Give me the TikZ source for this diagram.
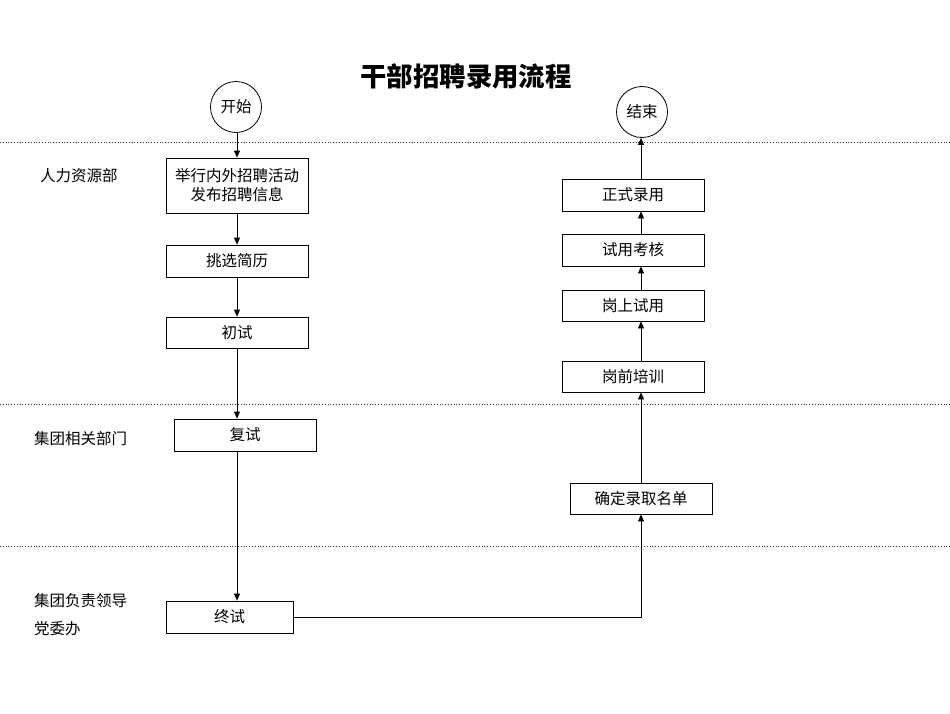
\documentclass[tikz,border=0pt]{standalone}
\usepackage{fontspec}
\newfontfamily\cjk{Noto Sans CJK SC}
\usetikzlibrary{arrows.meta}
\begin{document}
\begin{tikzpicture}[x=1pt,y=-1pt,
  every node/.style={font=\cjk\fontsize{15.5}{19}\selectfont},
  procbox/.style={draw,line width=0.8pt,rectangle,minimum width=142pt,minimum height=32pt,inner sep=0pt,align=center},
  termcirc/.style={draw,line width=0.8pt,circle,minimum size=51pt,inner sep=0pt},
  flow/.style={line width=0.8pt,-{Triangle[length=7pt,width=6pt]}},
  laneline/.style={dotted,line width=0.8pt,black!80},
  lanelabel/.style={anchor=west,inner sep=0pt}]
\useasboundingbox (0,0) rectangle (950,713);
% title
\node (title) at (466,76) {\cjk\bfseries\fontsize{26.4}{30}\selectfont 干部招聘录用流程};
% lane separators
\coordinate (l1a) at (0,142); \coordinate (l1b) at (950,142);
\coordinate (l2a) at (0,404); \coordinate (l2b) at (950,404);
\coordinate (l3a) at (0,546); \coordinate (l3b) at (950,546);
\draw[laneline] (l1a) -- (l1b);
\draw[laneline] (l2a) -- (l2b);
\draw[laneline] (l3a) -- (l3b);
% lane labels
\node[lanelabel] (hr) at (40,176) {人力资源部};
\node[lanelabel] (dept) at (34,439) {集团相关部门};
\node[lanelabel] (lead) at (34,601) {集团负责领导};
\node[lanelabel] (party) at (34,629) {党委办};
% columns
\coordinate (colL) at (237,0);
\coordinate (colR) at (641,0);
% left nodes
\node[termcirc] (start) at (236,107) {开始};
\node[procbox,minimum height=55pt] (recruit) at (237,185.5) {举行内外招聘活动\\发布招聘信息};
\node[procbox] (screen) at (237,261) {挑选简历};
\node[procbox,minimum height=31pt] (first) at (237,332.5) {初试};
\node[procbox] (second) at (245,435) {复试};
\node[procbox,minimum width=127pt] (final) at (229.5,617) {终试};
% right nodes
\node[termcirc] (end) at (642,112) {结束};
\node[procbox] (formal) at (633,195) {正式录用};
\node[procbox] (trial) at (633,250) {试用考核};
\node[procbox,minimum height=31pt] (onjob) at (633,305.5) {岗上试用};
\node[procbox,minimum height=31pt] (train) at (633,376.5) {岗前培训};
\node[procbox,minimum height=31pt] (list) at (641,498.5) {确定录取名单};
% connectors left
\draw[flow] (start.south -| colL) -- (recruit.north -| colL);
\draw[flow] (recruit.south -| colL) -- (screen.north -| colL);
\draw[flow] (screen.south -| colL) -- (first.north -| colL);
\draw[flow] (first.south -| colL) -- (second.north -| colL);
\draw[flow] (second.south -| colL) -- (final.north -| colL);
% bottom link
\draw[flow] (final.east) -| (list.south -| colR);
% connectors right
\draw[flow] (list.north -| colR) -- (train.south -| colR);
\draw[flow] (train.north -| colR) -- (onjob.south -| colR);
\draw[flow] (onjob.north -| colR) -- (trial.south -| colR);
\draw[flow] (trial.north -| colR) -- (formal.south -| colR);
\draw[flow] (formal.north -| colR) -- (end.south -| colR);
\end{tikzpicture}
\end{document}
